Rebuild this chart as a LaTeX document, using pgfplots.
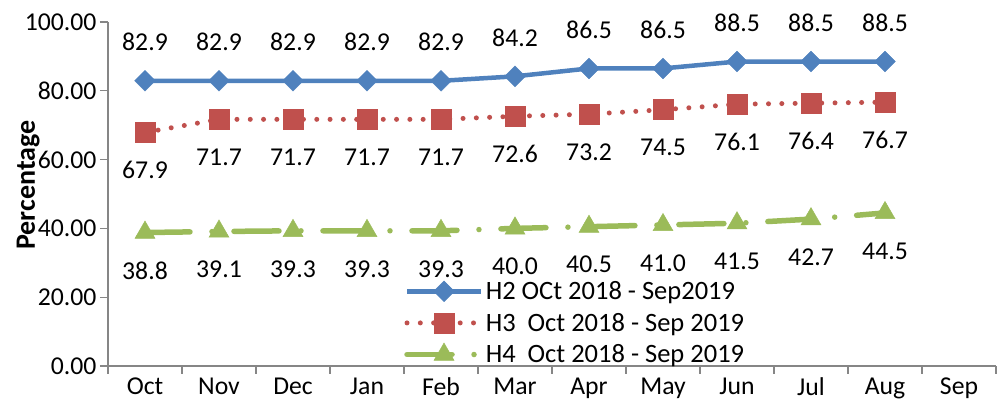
\documentclass[border=0pt]{standalone}
\usepackage{fontspec}
\setmainfont{Carlito}
\usepackage{pgfplots}
\pgfplotsset{compat=1.18}
\definecolor{cblue}{HTML}{4F81BD}
\definecolor{cred}{HTML}{C0504D}
\definecolor{cgreen}{HTML}{9BBB59}
\definecolor{axgray}{HTML}{868686}
\newcommand\f{\fontsize{25.7}{30}\selectfont}
\newcommand\fl{\fontsize{26.5}{30}\selectfont}
\pgfplotsset{legend image code/.code={\draw[mark repeat=2,mark phase=2,#1] plot coordinates {(0pt,0pt) (37pt,0pt) (74pt,0pt)};}}
\begin{document}
\begin{tikzpicture}
\begin{axis}[
  scale only axis, width=888pt, height=344pt,
  xmin=-0.5, xmax=11.5, ymin=0, ymax=100,
  axis lines*=left,
  axis line style={axgray, line width=1.2pt},
  clip=false,
  tick align=outside,
  xtick={0,...,11},
  xticklabels={Oct,Nov,Dec,Jan,Feb,Mar,Apr,May,Jun,Jul,Aug,Sep},
  major x tick style={draw=none},
  minor xtick={-0.5,0.5,1.5,2.5,3.5,4.5,5.5,6.5,7.5,8.5,9.5,10.5,11.5},
  minor tick length=8pt,
  major tick length=8pt,
  tick style={axgray, line width=1.2pt},
  ytick={0,20,40,60,80,100},
  /pgf/number format/assume math mode=true,
  yticklabel style={/pgf/number format/fixed, /pgf/number format/fixed zerofill, /pgf/number format/precision=2},
  tick label style={font=\f, black},
  ylabel={\bfseries Percentage},
  ylabel style={font=\fontsize{28}{32}\selectfont, at={(axis description cs:-0.09,0.526)}, anchor=center},
  legend style={at={(axis description cs:0.3334,0.252)}, anchor=north west, draw=none, fill=none, font=\fl, row sep=8pt, inner sep=0pt},
  legend cell align=left,
]
\addplot[cblue, line width=4.5pt, mark=square*, mark size=7.3pt, mark options={solid, rotate=45, line width=0.5pt},
  nodes near coords={\pgfmathprintnumber[fixed,fixed zerofill,precision=1]{\pgfplotspointmeta}},
  nodes near coords style={font=\f, black, anchor=center, yshift=39pt}]
  coordinates {(0,82.9) (1,82.9) (2,82.9) (3,82.9) (4,82.9) (5,84.2) (6,86.5) (7,86.5) (8,88.5) (9,88.5) (10,88.5)};
\addlegendentry{H2 OCt 2018 - Sep2019}
\addplot[cred, line width=5pt, line cap=round, dash pattern=on 0pt off 13.3pt, mark=square*, mark size=10pt, mark options={solid, line width=0.5pt},
  nodes near coords={\pgfmathprintnumber[fixed,fixed zerofill,precision=1]{\pgfplotspointmeta}},
  nodes near coords style={font=\f, black, anchor=center, yshift=-38pt}]
  coordinates {(0,67.9) (1,71.7) (2,71.7) (3,71.7) (4,71.7) (5,72.6) (6,73.2) (7,74.5) (8,76.1) (9,76.4) (10,76.7)};
\addlegendentry{H3\ \ Oct 2018 - Sep 2019}
\addplot[cgreen, line width=5.5pt, line cap=round, dash pattern=on 45pt off 22pt on 0pt off 22pt, mark=triangle*, mark size=11.5pt, mark options={solid, line width=0.5pt},
  nodes near coords={\pgfmathprintnumber[fixed,fixed zerofill,precision=1]{\pgfplotspointmeta}},
  nodes near coords style={font=\f, black, anchor=center, yshift=-38pt}]
  coordinates {(0,38.8) (1,39.1) (2,39.3) (3,39.3) (4,39.3) (5,40.0) (6,40.5) (7,41.0) (8,41.5) (9,42.7) (10,44.5)};
\addlegendentry{H4\ \ Oct 2018 - Sep 2019}
\end{axis}
\pgfresetboundingbox
\path[use as bounding box] (-108pt,-51pt) rectangle (893pt,366pt);
\end{tikzpicture}
\end{document}
